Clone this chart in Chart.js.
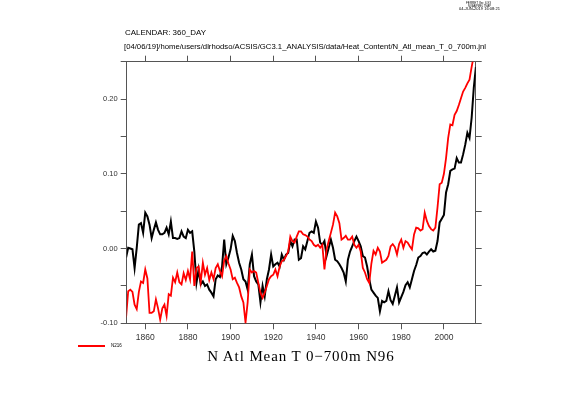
<!DOCTYPE html>
<html><head><meta charset="utf-8">
<script src="https://cdn.jsdelivr.net/npm/chart.js@4/dist/chart.umd.min.js"></script>
<style>
html,body{margin:0;padding:0;background:#fff;}
#wrap{position:relative;width:561px;height:397px;overflow:hidden;background:#fff;}
canvas{position:absolute;left:0;top:0;}
.t{position:absolute;white-space:nowrap;font-family:"Liberation Sans",Arial,sans-serif;color:#000;line-height:1;transform-origin:0 50%;}
#legline{position:absolute;left:78px;top:345px;width:27px;height:0;border-top:2px solid #ff0000;}
</style></head><body>
<div id="wrap">
<canvas id="c" width="561" height="397"></canvas>
<div class="t" id="f1" style="left:466px;top:2px;font-size:3.4px;">FERRET Ver. 6.93</div>
<div class="t" id="f2" style="left:468px;top:4.8px;font-size:3.4px;">NOAA/PMEL TMAP</div>
<div class="t" id="f3" style="left:459px;top:7.6px;font-size:3.4px;">04-JUN-2019 16:08:21</div>
<div class="t" id="cal" style="left:125px;top:29px;font-size:8px;">CALENDAR: 360_DAY</div>
<div class="t" id="path" style="left:124px;top:43px;font-size:7.5px;">[04/06/19]/home/users/dlrhodso/ACSIS/GC3.1_ANALYSIS/data/Heat_Content/N_Atl_mean_T_0_700m.jnl</div>
<div id="legline"></div>
<div class="t" id="leg" style="left:111px;top:344px;font-size:4.5px;">N216</div>
<div class="t" id="title" style="left:0;width:602px;text-align:center;top:349px;font-size:15px;letter-spacing:0.9px;font-family:'Liberation Serif','Times New Roman',serif;">N Atl Mean T 0&#8722;700m N96</div>
</div>
<script>
const startYear = 1851;
const n96 = [
-0.012,0.001,0.000,-0.001,-0.026,0.001,0.032,0.034,0.021,
0.048,0.043,0.032,0.014,0.025,0.035,0.025,0.019,0.019,0.021,
0.028,0.019,0.036,0.014,0.014,0.013,0.014,0.023,0.016,0.014,
0.025,0.021,0.023,-0.004,-0.046,-0.028,-0.048,-0.044,-0.050,-0.048,
-0.055,-0.059,-0.064,-0.041,-0.036,-0.038,-0.024,0.012,-0.021,-0.012,
-0.001,0.017,0.010,-0.006,-0.019,-0.028,-0.041,-0.044,-0.055,-0.021,
-0.008,-0.037,-0.044,-0.048,-0.072,-0.050,-0.064,-0.041,-0.028,-0.008,
-0.024,-0.021,-0.019,-0.024,-0.008,-0.015,-0.008,-0.006,0.010,0.003,
0.012,0.012,-0.015,-0.013,0.003,-0.001,0.010,0.021,0.023,0.021,
0.036,0.028,0.008,0.005,0.010,-0.010,0.001,0.012,0.001,-0.015,
-0.017,-0.021,-0.026,-0.032,-0.044,-0.015,-0.004,0.003,0.010,0.016,
0.010,0.003,-0.010,-0.012,-0.024,-0.041,-0.055,-0.059,-0.063,-0.066,
-0.084,-0.070,-0.072,-0.070,-0.057,-0.069,-0.074,-0.063,-0.052,-0.072,
-0.065,-0.058,-0.049,-0.045,-0.052,-0.041,-0.030,-0.022,-0.012,-0.010,
-0.006,-0.005,-0.008,-0.004,-0.001,-0.004,-0.003,0.010,0.035,0.040,
0.045,0.075,0.086,0.104,0.106,0.107,0.121,0.115,0.115,0.126,
0.139,0.155,0.148,0.175,0.215,0.243
];
const n216 = [
-0.092,-0.057,-0.055,-0.058,-0.075,-0.081,-0.058,-0.044,-0.046,
-0.028,-0.040,-0.086,-0.086,-0.084,-0.068,-0.080,-0.095,-0.080,-0.075,
-0.090,-0.061,-0.063,-0.039,-0.045,-0.032,-0.045,-0.048,-0.033,-0.042,
-0.030,-0.041,-0.004,-0.050,-0.026,-0.024,-0.045,-0.019,-0.035,-0.026,
-0.042,-0.032,-0.041,-0.026,-0.021,-0.030,-0.037,-0.016,-0.010,-0.020,
-0.028,-0.041,-0.039,-0.046,-0.052,-0.064,-0.072,-0.099,-0.072,-0.028,
-0.032,-0.030,-0.032,-0.046,-0.059,-0.066,-0.059,-0.050,-0.041,-0.037,
-0.035,-0.028,-0.037,-0.024,-0.017,-0.015,-0.010,-0.004,0.016,0.010,
0.008,0.016,0.023,0.023,0.019,0.018,0.016,0.012,0.010,0.005,
0.003,0.005,0.001,0.005,-0.028,-0.001,0.010,0.021,0.032,0.048,
0.043,0.034,0.012,0.014,0.017,0.012,0.012,0.016,0.005,0.001,
0.005,-0.004,-0.026,-0.032,-0.041,-0.046,-0.020,-0.003,-0.008,0.001,
-0.004,-0.019,-0.017,-0.015,-0.010,0.003,0.006,0.002,-0.008,0.006,
0.012,0.001,0.010,0.008,0.003,-0.001,0.019,0.028,0.027,0.024,
0.026,0.048,0.037,0.030,0.026,0.024,0.028,0.055,0.086,0.088,
0.100,0.121,0.148,0.166,0.165,0.179,0.184,0.192,0.201,0.210,
0.215,0.221,0.226,0.243,0.258,0.270
];
const years = n96.map((_, i) => startYear + i);
const xTicks = [1860, 1880, 1900, 1920, 1940, 1960, 1980, 2000];
const yTicks = [-0.10, -0.05, 0.00, 0.05, 0.10, 0.15, 0.20, 0.25];
const yTickLabels = ['-0.10', '', '0.00', '', '0.10', '', '0.20', ''];

const AX = '#555';
const FONT = '"Liberation Sans", Arial, sans-serif';
const pts = arr => arr.map((v, i) => ({x: years[i], y: v}));
const xMin = 1851.3, xMax = 2014.9;
const L = 126.7, R = 475.7, T = 61.7, B = 323.3, W = 561, H = 397;

function xScale(pos, showLabels, size) {
  return {
    type: 'linear', position: pos, min: xMin, max: xMax,
    afterBuildTicks: s => { s.ticks = xTicks.map(v => ({value: v})); },
    ticks: {display: showLabels, autoSkip: false, maxRotation: 0, padding: 3, color: '#333',
      font: {family: FONT, size: 8.5}, callback: v => String(v)},
    grid: {drawOnChartArea: false, drawTicks: true, tickLength: 6, tickColor: AX, lineWidth: 1},
    border: {display: true, color: AX, width: 1},
    afterFit: s => { s.height = size; }
  };
}
function yScale(pos, showLabels, size) {
  return {
    type: 'linear', position: pos, min: -0.10, max: 0.25,
    afterBuildTicks: s => { s.ticks = yTicks.map(v => ({value: v})); },
    ticks: {display: showLabels, autoSkip: false, padding: 3, color: '#333',
      font: {family: FONT, size: 7.5}, callback: (v, i) => yTickLabels[i]},
    grid: {drawOnChartArea: false, drawTicks: true, tickLength: 6, tickColor: AX, lineWidth: 1},
    border: {display: true, color: AX, width: 1},
    afterFit: s => { s.width = size; }
  };
}

new Chart(document.getElementById('c'), {
  type: 'line',
  data: {datasets: [
    {label: 'N96', data: pts(n96), borderColor: '#000000', borderWidth: 2, pointRadius: 0, tension: 0, order: 1, xAxisID: 'x', yAxisID: 'y'},
    {label: 'N216', data: pts(n216), borderColor: '#ff0000', borderWidth: 1.8, pointRadius: 0, tension: 0, order: 0, xAxisID: 'x', yAxisID: 'y'}
  ]},
  options: {
    responsive: false, animation: false, devicePixelRatio: 1,
    layout: {padding: 0},
    plugins: {legend: {display: false}, tooltip: {enabled: false}, title: {display: false}},
    scales: {
      x: xScale('bottom', true, H - B),
      x2: xScale('top', false, T),
      y: yScale('left', true, L),
      y2: yScale('right', false, W - R)
    }
  }
});

function fit(id, w) {
  const el = document.getElementById(id);
  const cw = el.getBoundingClientRect().width;
  if (cw > 0) el.style.transform = 'scaleX(' + (w / cw) + ')';
}
fit('path', 362);
fit('cal', 81);
fit('f1', 25); fit('f2', 23); fit('f3', 41);
</script>
</body></html>
